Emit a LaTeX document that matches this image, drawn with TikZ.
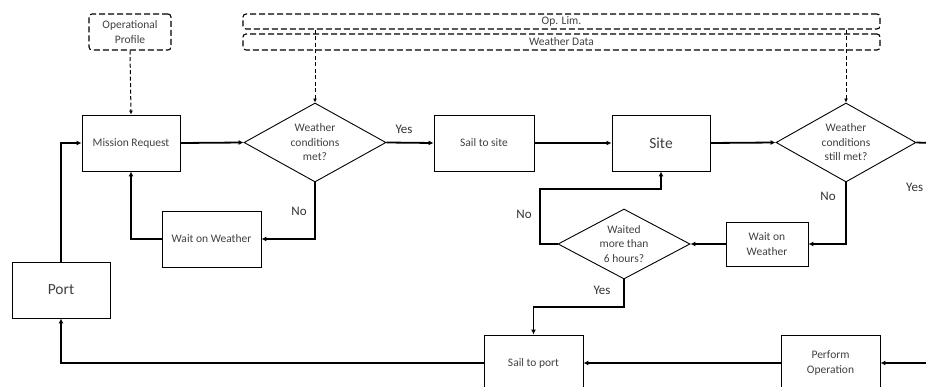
\documentclass[tikz,border=0pt]{standalone}
\usepackage{fontspec}
\setmainfont{Carlito}
\usetikzlibrary{shapes.geometric,arrows.meta}
\tikzset{
  txt/.style={text=black!75, font=\fontsize{11.5}{14.5}\selectfont, align=center},
  box/.style={txt, draw=black, line width=0.9pt, rectangle, inner sep=0pt},
  bigbox/.style={box, font=\fontsize{15.5}{18}\selectfont},
  dec/.style={txt, draw=black, line width=0.9pt, diamond, inner sep=0pt},
  dbox/.style={txt, draw=black, line width=1.1pt, rectangle, rounded corners=3pt, dash pattern=on 6pt off 3pt, inner sep=0pt},
  flow/.style={line width=1.8pt, -{Latex[length=5pt,width=5pt]}},
  flowline/.style={line width=1.8pt},
  dflow/.style={draw=black, line width=1pt, dash pattern=on 4pt off 2.5pt, -{Latex[length=4pt,width=4pt]}},
  lbl/.style={text=black!80, font=\fontsize{13}{15}\selectfont, inner sep=0pt}
}
\begin{document}
\begin{tikzpicture}[x=1pt,y=-1pt]
\useasboundingbox (0,0) rectangle (926,387);
\clip (0,0) rectangle (926,387);
% data boxes
\node[dbox, minimum width=82pt, minimum height=36pt] (oprof) at (130,32) {Operational\\Profile};
\node[dbox, minimum width=637pt, minimum height=15pt] (oplim) at (561.5,21.5) {Op. Lim.};
\node[dbox, minimum width=637pt, minimum height=16pt] (wdata) at (561.5,42) {Weather Data};
% process nodes
\node[box, minimum width=98pt, minimum height=56pt] (mreq) at (131,143) {Mission Request};
\node[dec, minimum width=142pt, minimum height=79pt, shape aspect=1.8] (d1) at (315,142.5) {Weather\\conditions\\met?};
\node[box, minimum width=100pt, minimum height=56pt] (sts) at (484,143) {Sail to site};
\node[bigbox, minimum width=98pt, minimum height=56pt] (site) at (661,143) {Site};
\node[dec, minimum width=140pt, minimum height=79pt, shape aspect=1.8] (d2) at (846,142.5) {Weather\\conditions\\still met?};
\node[box, minimum width=99pt, minimum height=56pt] (ww1) at (211.5,239) {Wait on Weather};
\node[box, minimum width=82pt, minimum height=44pt] (ww2) at (767,244) {Wait on\\Weather};
\node[dec, minimum width=132pt, minimum height=70pt, shape aspect=1.9] (d3) at (624,244) {Waited\\more than\\6 hours?};
\node[bigbox, minimum width=98pt, minimum height=56pt] (port) at (61,290) {Port};
\node[box, minimum width=99pt, minimum height=56pt] (stp) at (533.5,363) {Sail to port};
\node[box, minimum width=99pt, minimum height=56pt] (perf) at (830.5,363) {Perform\\Operation};
% free ends and bends
\coordinate (rOut) at (930,143);
\coordinate (rIn) at (930,363);
\coordinate (c1) at (540,189);
\coordinate (c2) at (624,307);
% dashed data links
\draw[dflow] (oprof.south) -- (mreq.north);
\draw[dflow] (oplim.south -| d1.north) -- (d1.north);
\draw[dflow] (oplim.south -| d2.north) -- (d2.north);
% main flow
\draw[flow] (mreq.east) -- (d1.west);
\draw[flow] (d1.east) -- (sts.west);
\draw[flow] (sts.east) -- (site.west);
\draw[flow] (site.east) -- (d2.west);
\draw[flowline] (d2.east) -- (rOut);
\draw[flow] (d1.south) |- (ww1.east);
\draw[flow] (ww1.west) -| (mreq.south);
\draw[flow] (d2.south) |- (ww2.east);
\draw[flow] (ww2.west) -- (d3.east);
\draw[flow] (d3.west) -| (c1) -| (site.south);
\draw[flow] (d3.south) -- (c2) -| (stp.north);
\draw[flow] (rIn) -- (perf.east);
\draw[flow] (perf.west) -- (stp.east);
\draw[flow] (stp.west) -| (port.south);
\draw[flow] (port.north) |- (mreq.west);
% labels
\node[lbl] (l1) at (404,129) {Yes};
\node[lbl] (l2) at (299,211) {No};
\node[lbl] (l3) at (828,196) {No};
\node[lbl, anchor=west] (l4) at (906,187) {Yes};
\node[lbl] (l5) at (524,214) {No};
\node[lbl] (l6) at (602,290) {Yes};
\end{tikzpicture}
\end{document}
